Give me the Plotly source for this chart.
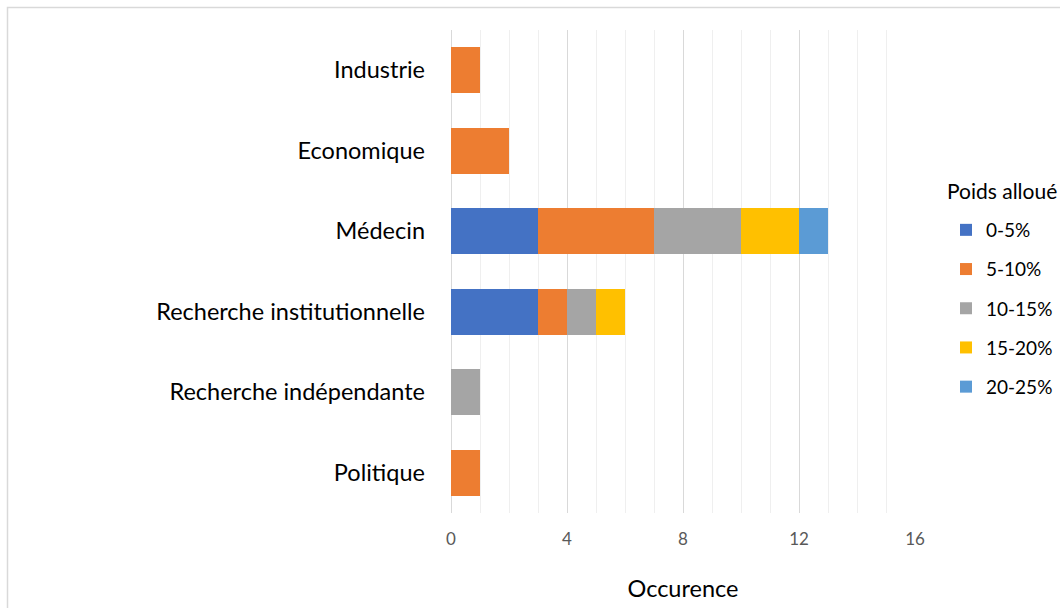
import plotly.graph_objects as go

categories = ["Industrie", "Economique", "Médecin", "Recherche institutionnelle",
              "Recherche indépendante", "Politique"]
series_names = ["0-5%", "5-10%", "10-15%", "15-20%", "20-25%"]
v_0_5 = [0, 0, 3, 3, 0, 0]
v_5_10 = [1, 2, 4, 1, 0, 1]
v_10_15 = [0, 0, 3, 1, 1, 0]
v_15_20 = [0, 0, 2, 1, 0, 0]
v_20_25 = [0, 0, 1, 0, 0, 0]
series_values = [v_0_5, v_5_10, v_10_15, v_15_20, v_20_25]
colors = ["#4472C4", "#ED7D31", "#A5A5A5", "#FFC000", "#5B9BD5"]
tick_vals = [0, 4, 8, 12, 16]
legend_title = "Poids alloué"

FONT = "Lato, Calibri, Carlito, sans-serif"

fig = go.Figure()
for name, vals, col in zip(series_names, series_values, colors):
    fig.add_trace(go.Bar(
        y=categories, x=vals, name=name, orientation="h",
        marker=dict(color=col, line=dict(width=0)),
        legendgroup=name,
    ))

W, H = 1060, 608
ml, mt = 451, 30
pr, pb = 915, 513
mr, mb = W - pr, H - pb
pw, ph = pr - ml, pb - mt

def px_x(p):
    return (p - ml) / pw

def px_y(p):
    return 1 - (p - mt) / ph

fig.update_layout(
    width=W, height=H,
    margin=dict(l=ml, r=mr, t=mt, b=mb, autoexpand=False),
    barmode="stack",
    bargap=0.43,
    plot_bgcolor="white",
    paper_bgcolor="white",
    font=dict(family=FONT, color="#000000"),
    xaxis=dict(
        range=[0, 16],
        tickvals=tick_vals,
        ticktext=[str(t) for t in tick_vals],
        showgrid=True, gridcolor="#d9d9d9", gridwidth=1,
        zeroline=True, zerolinecolor="#d9d9d9", zerolinewidth=1,
        showline=False,
        tickfont=dict(size=17, color="#595959", family=FONT),
        ticklabelstandoff=14,
        minor=dict(dtick=1, showgrid=True, gridcolor="#efefef", gridwidth=1, ticks=""),
        title=dict(text="Occurence", font=dict(size=23.5, color="#000000", family=FONT), standoff=32),
        fixedrange=True,
        automargin=False,
    ),
    yaxis=dict(
        categoryorder="array", categoryarray=categories,
        autorange="reversed",
        showgrid=False, showline=False, zeroline=False,
        tickfont=dict(size=23.5, color="#000000", family=FONT),
        ticklabelstandoff=25,
        ticks="",
        automargin=False,
    ),
    legend=dict(
        font=dict(size=19, family=FONT, color="#000000"),
        x=px_x(946), xanchor="left",
        y=px_y(211), yanchor="top",
        traceorder="grouped",
        tracegroupgap=11.5,
        bgcolor="rgba(0,0,0,0)",
    ),
    showlegend=True,
    annotations=[dict(
        text=legend_title, xref="paper", yref="paper",
        x=px_x(945), y=px_y(191), xanchor="left", yanchor="middle",
        showarrow=False, font=dict(size=21, family=FONT, color="#000000"),
    )],
    shapes=[dict(
        type="rect", xref="paper", yref="paper",
        x0=px_x(7.5), x1=px_x(1075), y0=px_y(7.5), y1=px_y(625),
        line=dict(color="#d9d9d9", width=1.5), fillcolor="rgba(0,0,0,0)",
        layer="below",
    )],
)

fig.write_html(
    "out.html",
    config={"displayModeBar": False},
    post_script="document.body.style.margin='0';document.body.style.overflow='hidden';",
)
